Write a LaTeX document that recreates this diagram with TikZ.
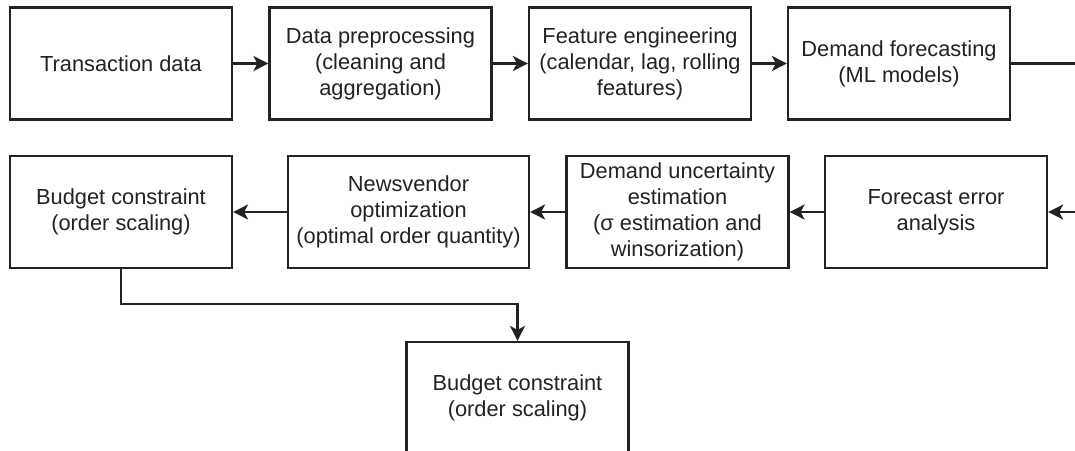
\documentclass[tikz,border=0pt]{standalone}
\usepackage{fontspec}
\setmainfont{Liberation Sans}
\usepackage{xcolor}
\usepackage{tikz}
\usetikzlibrary{arrows.meta}
\definecolor{ink}{HTML}{222222}
\tikzset{
  box/.style={draw=ink, line width=1.1pt, fill=white, text=ink, align=center,
    minimum width=111pt, minimum height=56pt, inner sep=2pt,
    font=\fontsize{10.9}{13}\selectfont},
  flow/.style={draw=ink, line width=1.1pt, -{Stealth[length=7.5pt,width=7.5pt,inset=2pt]}},
  plainline/.style={draw=ink, line width=1.1pt},
}

\begin{document}
\begin{tikzpicture}[x=0.5pt,y=-0.5pt]
  \useasboundingbox (0,0) rectangle (1075,450);
  \clip (0,0) rectangle (1075,450);
  % first row
  \node[box] (td) at (121,63.5) {Transaction data};
  \node[box] (dp) at (380.5,63.5) {Data preprocessing\\(cleaning and\\aggregation)};
  \node[box] (fe) at (640,63.5) {Feature engineering\\(calendar, lag, rolling\\features)};
  \node[box] (df) at (899,63.5) {Demand forecasting\\(ML models)};
  % second row
  \node[box] (fa) at (936,212) {Forecast error\\analysis};
  \node[box] (du) at (677.5,212) {Demand uncertainty\\estimation\\(σ estimation and\\winsorization)};
  \node[box,minimum width=120.5pt] (nv) at (408.5,212) {Newsvendor\\optimization\\(optimal order quantity)};
  \node[box] (bc) at (121,212) {Budget constraint\\(order scaling)};
  % last box, cut by the lower edge
  \node[box] (bcout) at (517.5,398) {Budget constraint\\(order scaling)};
  \coordinate (eastout) at (1075,63.5);
  \coordinate (eastin) at (1075,212);
  \coordinate (bend) at (121,304);

  \draw[flow] (td) -- (dp);
  \draw[flow] (dp) -- (fe);
  \draw[flow] (fe) -- (df);
  \draw[plainline] (df.east) -- (eastout);
  \draw[flow] (eastin) -- (fa.east);
  \draw[flow] (fa) -- (du);
  \draw[flow] (du) -- (nv);
  \draw[flow] (nv) -- (bc);
  \draw[flow] (bc.south) -- (bend) -| (bcout.north);
\end{tikzpicture}
\end{document}
